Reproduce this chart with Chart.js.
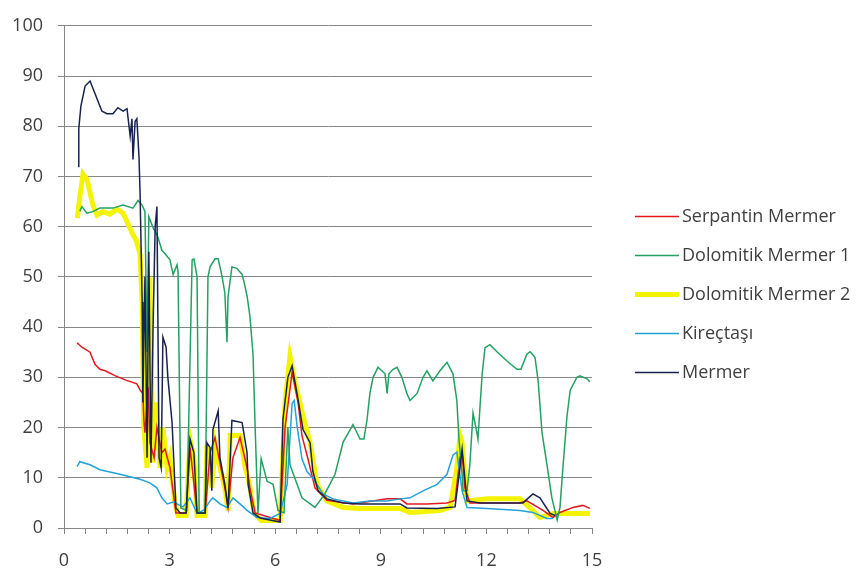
<!DOCTYPE html>
<html>
<head>
<meta charset="utf-8">
<script src="https://cdn.jsdelivr.net/npm/chart.js@4"></script>
<style>
  body { margin: 0; background: #fff; }
  canvas { display: block; }
</style>
</head>
<body>
<canvas id="chart" width="857" height="572"></canvas>
<script>
// series names, same order as the legend
const seriesNames = ['Serpantin Mermer', 'Dolomitik Mermer 1', 'Dolomitik Mermer 2', 'Kireçtaşı', 'Mermer']

// x axis tick marks (labels only every 3)
const xTickValues = [0,0.6,1.2,1.8,2.4,3,3.6,4.2,4.8,5.4,6,6.6,7.2,7.8,8.4,9,9.6,10.2,10.8,11.4,12,12.6,13.2,13.8,14.4,15]
const xTickLabels = ['0','3','6','9','12','15']

// Serpantin Mermer
const serpantinX = [0.37,0.51,0.74,0.88,1.02,1.17,1.46,1.74,2.07,2.16,2.24,2.27,2.30,2.39,2.44,2.56,2.64,2.78,2.87,3.01,3.18,3.47,3.58,3.78,4.01,4.15,4.29,4.57,4.66,4.80,5.00,5.20,5.28,5.43,6.14,6.28,6.48,6.65,6.76,6.93,7.13,7.47,8.21,9.18,9.55,9.74,10.31,10.88,11.11,11.25,11.31,11.39,11.53,12.95,13.15,13.61,13.89,14.09,14.46,14.74,14.94]
const serpantinY = [36.9,36,35,32.6,31.6,31.3,30.3,29.5,28.7,27.5,26.8,21.4,19,28,17,14,20,15,15.7,12,3,3,16,3,3,15,18,8,4,14,18,12,8,3,1.5,20,31,25,18.4,13.8,8,5.5,4.8,5.8,5.8,4.8,4.8,5,5.5,14,15,8,5,5,5.4,3.5,2.1,3.1,4.1,4.5,3.9]

// Dolomitik Mermer 1
const dolomitik1X = [0.45,0.51,0.65,0.82,1.02,1.39,1.68,1.96,2.10,2.22,2.30,2.36,2.41,2.53,2.67,2.78,2.87,3.01,3.10,3.21,3.24,3.32,3.49,3.64,3.69,3.78,3.84,4.01,4.09,4.15,4.29,4.38,4.49,4.57,4.63,4.66,4.77,4.91,5.06,5.14,5.20,5.28,5.37,5.43,5.51,5.60,5.77,5.94,6.08,6.25,6.36,6.42,6.76,7.13,7.41,7.70,7.93,8.13,8.21,8.41,8.52,8.61,8.69,8.78,8.92,9.12,9.18,9.23,9.35,9.46,9.60,9.74,9.83,10.03,10.20,10.31,10.48,10.68,10.88,11.05,11.16,11.22,11.31,11.34,11.45,11.53,11.62,11.73,11.76,11.82,11.88,11.96,12.10,12.30,12.59,12.87,12.98,13.15,13.24,13.38,13.47,13.58,13.72,13.86,14.01,14.09,14.18,14.29,14.38,14.57,14.66,14.86,14.94]
const dolomitik1Y = [63.1,64,62.7,63,63.7,63.7,64.3,63.7,65.2,64.3,63,35,62,59.8,57.9,55.3,54.6,53.4,50.5,52.4,51,4,3.5,53.4,53.6,50,3,3,50,52,53.6,53.6,50.1,46.8,37,46,52,51.7,50.5,48.2,46.2,42.3,34.6,20,3,13.8,9.3,8.7,3.5,3,20,12.6,6,4.1,6.8,10.7,17.1,19.6,20.6,17.7,17.7,21.6,26.8,30,32,30.7,26.8,30.7,31.6,32,30,26.8,25.4,26.8,30,31.3,29.3,31.3,33,30.7,25.4,17.7,10.7,7.4,7.4,12.6,22.9,19,17.7,24.3,30.7,35.9,36.5,35.1,33.2,31.6,31.6,34.6,35.1,34,29.3,19,12.6,6,1.6,4.1,12.6,22.3,27.4,30,30.3,29.7,29.1]

// Dolomitik Mermer 2
const dolomitik2X = [0.38,0.45,0.54,0.65,0.82,0.94,1.10,1.30,1.50,1.68,1.79,1.96,2.05,2.16,2.22,2.27,2.36,2.44,2.53,2.61,2.73,2.81,2.93,3.01,3.15,3.24,3.47,3.58,3.69,3.78,4.01,4.06,4.20,4.30,4.43,4.57,4.66,4.72,5.00,5.15,5.26,5.40,5.60,6.14,6.28,6.42,6.62,6.79,6.99,7.19,7.47,7.93,8.41,9.55,9.83,10.68,10.97,11.16,11.25,11.31,11.45,12.02,12.95,13.24,13.52,13.89,14.09,14.94]
const dolomitik2Y = [61.7,66,70.5,69.5,64.3,62.3,63,62.5,63.5,62.7,61,58.4,57.3,54.6,45,20,12,50,13,25,12,20,12,14,5,2.5,2.5,17.7,14,2.5,2.5,16.5,8,16.5,12,8,3.5,18.4,18.4,12,9,3,1.5,1.5,25,34.2,27.4,22.3,17,8.7,5.4,4.1,3.9,3.9,3.1,3.5,4.1,12,18.4,17,5.4,5.8,5.8,4,2.1,2.9,2.9,2.9]

// Kireçtaşı
const kirectasiX = [0.37,0.45,0.74,1.02,1.59,2.16,2.44,2.64,2.78,2.93,3.13,3.21,3.38,3.58,3.78,3.98,4.15,4.23,4.43,4.63,4.80,5.00,5.20,5.48,5.85,6.14,6.34,6.48,6.54,6.62,6.76,6.90,7.07,7.36,7.64,8.21,8.69,9.18,9.55,9.83,10.20,10.60,10.77,10.88,11.05,11.16,11.31,11.45,12.02,12.95,13.32,13.72,13.89]
const kirectasiY = [12.2,13.2,12.6,11.6,10.7,9.7,9,8,6,4.8,5.2,4.8,4.2,6,2.9,3.6,5.4,6,4.8,4.1,6,4.8,3.5,2.1,1.9,2.9,8.7,24.8,25.4,20.4,13.8,11.3,9.9,6.8,5.8,5,5.4,5.4,5.8,6,7.4,8.7,9.9,10.7,14.5,15.1,7.4,4.1,3.9,3.5,3.1,1.9,1.9]

// Mermer
const mermerX = [0.40,0.42,0.48,0.60,0.74,0.88,1.02,1.08,1.22,1.39,1.53,1.68,1.79,1.88,1.93,1.96,2.02,2.07,2.13,2.16,2.22,2.24,2.30,2.36,2.41,2.47,2.53,2.59,2.64,2.70,2.76,2.81,2.90,2.95,3.07,3.18,3.30,3.47,3.58,3.69,3.78,4.01,4.06,4.15,4.20,4.23,4.38,4.43,4.57,4.66,4.77,5.06,5.20,5.23,5.37,5.57,6.14,6.22,6.36,6.48,6.62,6.79,6.99,7.07,7.22,7.47,7.93,8.41,9.55,9.74,10.60,11.11,11.25,11.31,11.36,11.45,11.82,12.39,13.04,13.32,13.52,13.81,13.95]
const mermerY = [72,79.5,84,88,89,86.5,84,83,82.5,82.5,83.7,83,83.5,78,81.5,73.4,81,81.5,74,67,45,25,50,14,55,13,40,60,64,14,12,38,36,30,21,4,3,3,17.7,15,3,3,17,16,7.4,19.6,23.3,14,8.7,4,21.4,21,15,8.7,3,2,1.2,21.6,30,32.3,26.8,19.6,17,11.3,7.4,5.8,5,4.8,4.8,4,3.9,4.2,12,15.7,12,5.4,5,5,5,6.8,6,2.9,2.5]

const toPoints = (xs, ys) => xs.map((x, i) => ({ x: x, y: ys[i] }))

const gridColor = '#878787'
const textColor = '#3f3f3f'
Chart.defaults.font.family = "'Open Sans', sans-serif"

// legend drawn at the right of the plot, like the spreadsheet one
const sideLegend = {
  id: 'sideLegend',
  afterDraw(chart) {
    const ctx = chart.ctx
    const area = chart.chartArea
    const rowGap = 38.8
    const firstY = chart.height / 2 - 2 * rowGap + 8
    ctx.save()
    ctx.font = "18px 'Open Sans'"
    ctx.textBaseline = 'middle'
    ctx.fillStyle = textColor
    chart.data.datasets.forEach((ds, i) => {
      const y = Math.round(firstY + i * rowGap) + 0.5
      ctx.strokeStyle = ds.borderColor
      ctx.lineWidth = ds.borderWidth
      ctx.beginPath()
      ctx.moveTo(area.right + 43, y)
      ctx.lineTo(area.right + 87, y)
      ctx.stroke()
      ctx.fillText(ds.label, area.right + 90, y)
    })
    ctx.restore()
  }
}

const ctx = document.getElementById('chart')
new Chart(ctx, {
  type: 'scatter',
  data: {
    datasets: [
      { label: seriesNames[0], data: toPoints(serpantinX, serpantinY), borderColor: '#e3171e', borderWidth: 1.5, order: 4 },
      { label: seriesNames[1], data: toPoints(dolomitik1X, dolomitik1Y), borderColor: '#23a062', borderWidth: 1.5, order: 2 },
      { label: seriesNames[2], data: toPoints(dolomitik2X, dolomitik2Y), borderColor: '#f4f400', borderWidth: 5, order: 5 },
      { label: seriesNames[3], data: toPoints(kirectasiX, kirectasiY), borderColor: '#22a3da', borderWidth: 1.5, order: 3 },
      { label: seriesNames[4], data: toPoints(mermerX, mermerY), borderColor: '#17234f', borderWidth: 1.5, order: 1 }
    ].map(ds => Object.assign(ds, { showLine: true, pointRadius: 0, pointHoverRadius: 0, tension: 0, fill: false }))
  },
  options: {
    responsive: false,
    animation: false,
    layout: { padding: { top: 15, right: 265, bottom: 0, left: 0 } },
    plugins: {
      legend: { display: false },
      tooltip: { enabled: false }
    },
    scales: {
      x: {
        type: 'linear',
        min: 0,
        max: 15,
        afterFit: (scale) => { scale.height = 44 },
        afterBuildTicks: (scale) => { scale.ticks = xTickValues.map(v => ({ value: v })) },
        ticks: {
          autoSkip: false,
          maxRotation: 0,
          padding: 16,
          color: textColor,
          font: { size: 18 },
          callback: (v) => {
            const label = String(Math.round(v))
            return Math.abs(v - Math.round(v)) < 1e-6 && xTickLabels.includes(label) ? label : ''
          }
        },
        grid: { drawOnChartArea: false, drawTicks: true, tickLength: 6, color: gridColor },
        border: { color: gridColor }
      },
      y: {
        min: 0,
        max: 100,
        afterFit: (scale) => { scale.width = 64 },
        ticks: { stepSize: 10, padding: 15, color: textColor, font: { size: 18 } },
        grid: { color: gridColor, tickLength: 6 },
        border: { color: gridColor }
      }
    }
  },
  plugins: [sideLegend]
})
</script>
</body>
</html>
